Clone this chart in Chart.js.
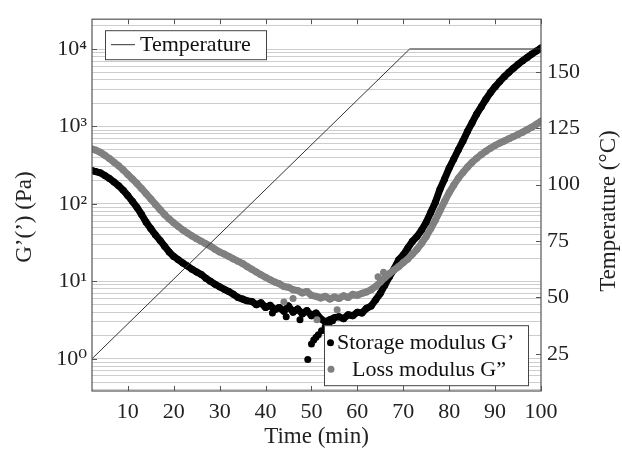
<!DOCTYPE html>
<html>
<head>
<meta charset="utf-8">
<script src="https://cdn.jsdelivr.net/npm/chart.js@4.4.0/dist/chart.umd.min.js"></script>
<style>
  html, body { margin: 0; padding: 0; background: #fff; }
</style>
</head>
<body>
<canvas id="rheo" width="622" height="452"></canvas>
<script>
// time axis (min) shared by both moduli
const times = [2.2, 3, 4, 5, 6, 7, 8, 9, 10,
    11, 12, 13, 14, 15, 16, 17, 18, 19, 20,
    21, 22, 23, 24, 25, 26, 27, 28, 29, 30,
    31, 32, 33, 34, 35, 36, 37, 38, 39, 40,
    41, 42, 43, 44, 45, 46, 47, 48, 49, 50,
    51, 52, 53, 54, 55, 56, 57, 58, 59, 60,
    61, 62, 63, 64, 65, 66, 67, 68, 69, 70,
    71, 72, 73, 74, 75, 76, 77, 78, 79, 80,
    81, 82, 83, 84, 85, 86, 87, 88, 89, 90,
    91, 92, 93, 94, 95, 96, 97, 98, 99, 100];

// G' (Pa)
const storageModulus = [270, 262, 252, 232, 213, 192, 172, 150, 128,
    108, 90, 73, 58, 48, 40, 34, 28.5, 24, 21,
    19, 17.2, 15.8, 14.3, 13.2, 12.3, 11, 10, 9.2, 8.5,
    7.9, 7.4, 6.8, 6.2, 5.9, 5.6, 5.5, 5.0, 5.3, 4.6,
    4.9, 4.3, 4.6, 4.1, 4.8, 4.0, 4.4, 3.8, 4.2, 3.6,
    3.9, 3.3, 3.0, 3.2, 3.4, 3.5, 3.3, 3.7, 3.6, 4.0,
    3.9, 4.5, 4.8, 5.8, 7.0, 9.0, 11.5, 14.5, 19, 22,
    27, 33, 38, 46, 58, 78, 105, 155, 210, 290,
    380, 500, 650, 870, 1120, 1450, 1800, 2250, 2750, 3250,
    3800, 4400, 5000, 5650, 6350, 7050, 7800, 8600, 9400, 10300];

// G'' (Pa)
const lossModulus = [510, 495, 465, 425, 385, 345, 310, 275, 240,
    210, 183, 158, 135, 116, 99, 85, 73, 64, 57,
    51, 46, 42, 38.5, 35.5, 33, 30.5, 28.5, 26, 24,
    22.5, 21, 19.5, 18.2, 17, 15.5, 14.3, 13.2, 12.2, 11.3,
    10.5, 9.8, 9.3, 8.6, 8.4, 7.8, 7.6, 7.1, 7.4, 6.6,
    6.4, 6.1, 6.4, 5.9, 6.3, 6.0, 6.5, 6.2, 6.8, 6.6,
    7.0, 7.3, 7.8, 8.6, 9.8, 11.2, 12.6, 14.0, 15.5, 17.5,
    19.5, 22.5, 26, 31, 38, 48, 62, 82, 108, 140,
    175, 215, 255, 300, 345, 390, 435, 480, 525, 570,
    610, 650, 695, 740, 790, 845, 910, 980, 1070, 1170];

// scattered readings around the minimum
const storageOutlierTimes = [41.5, 44.5, 47.5, 49.2, 50.0, 50.5, 51.0, 51.5, 52.2, 53.0, 53.8, 54.6];
const storageOutliers = [3.9, 3.5, 3.2, 0.98, 1.55, 1.75, 1.9, 2.05, 2.3, 2.6, 2.85, 3.1];
const lossOutlierTimes = [44, 46, 51.2, 55.6, 64.5, 65.7];
const lossOutliers = [5.4, 6.0, 3.2, 4.3, 11.5, 13.1];

// temperature program (°C)
const tempTimes = [2.2, 71.4, 100];
const temperature = [22.8, 160.2, 160.2];

const timeTicks = [10, 20, 30, 40, 50, 60, 70, 80, 90, 100];
const tempTicks = [25, 50, 75, 100, 125, 150];
const decadeTicks = [1, 10, 100, 1000, 10000];
const decadeLabels = ['10⁰', '10¹', '10²', '10³', '10⁴'];

const serif = "'Liberation Serif', 'DejaVu Serif', serif";
const fontSize = 22;
const titleSize = 23;
const toPoints = (xs, ys) => xs.map((x, i) => ({ x: x, y: ys[i] }));

// frame, inward tick marks, vertical titles and the two legend boxes
const framePlugin = {
    id: 'frame',
    afterDraw(chart) {
        const { ctx, chartArea: a, scales } = chart;
        ctx.save();
        ctx.strokeStyle = '#555';
        ctx.lineWidth = 1.2;
        ctx.strokeRect(a.left, a.top, a.right - a.left, a.bottom - a.top);

        ctx.lineWidth = 1;
        ctx.beginPath();
        timeTicks.forEach(v => {
            const px = Math.round(scales.x.getPixelForValue(v)) + 0.5;
            ctx.moveTo(px, a.bottom); ctx.lineTo(px, a.bottom - 5);
            ctx.moveTo(px, a.top); ctx.lineTo(px, a.top + 5);
        });
        decadeTicks.forEach(v => {
            const py = Math.round(scales.y.getPixelForValue(v)) + 0.5;
            ctx.moveTo(a.left, py); ctx.lineTo(a.left + 5, py);
        });
        tempTicks.forEach(v => {
            const py = Math.round(scales.y1.getPixelForValue(v)) + 0.5;
            ctx.moveTo(a.right, py); ctx.lineTo(a.right - 5, py);
        });
        ctx.stroke();

        // vertical axis titles, both reading bottom to top
        ctx.fillStyle = '#222';
        ctx.textAlign = 'center';
        ctx.textBaseline = 'middle';
        ctx.font = titleSize + 'px ' + serif;
        ctx.save();
        ctx.translate(25, (a.top + a.bottom) / 2 + 12);
        ctx.rotate(-Math.PI / 2);
        ctx.fillText('G’(’) (Pa)', 0, 0);
        ctx.restore();
        ctx.save();
        ctx.translate(a.right + 68, (a.top + a.bottom) / 2 + 6);
        ctx.rotate(-Math.PI / 2);
        ctx.fillText('Temperature (°C)', 0, 0);
        ctx.restore();

        ctx.textAlign = 'left';
        ctx.font = fontSize + 'px ' + serif;
        ctx.fillStyle = '#fff';
        ctx.strokeStyle = '#444';

        // temperature legend
        let bx = a.left + 13, by = a.top + 11;
        ctx.fillRect(bx, by, 161, 29);
        ctx.strokeRect(bx + 0.5, by + 0.5, 161, 29);
        ctx.beginPath();
        ctx.strokeStyle = '#333';
        ctx.moveTo(bx + 6, by + 14.5); ctx.lineTo(bx + 30, by + 14.5);
        ctx.stroke();
        ctx.fillStyle = '#111';
        ctx.fillText('Temperature', bx + 35, by + 15);

        // moduli legend
        bx = a.left + 232; by = a.top + 306;
        ctx.fillStyle = '#fff';
        ctx.strokeStyle = '#444';
        ctx.fillRect(bx, by, 204, 60);
        ctx.strokeRect(bx + 0.5, by + 0.5, 204, 60);
        ctx.fillStyle = '#000';
        ctx.beginPath(); ctx.arc(bx + 6.5, by + 17.5, 3.5, 0, Math.PI * 2); ctx.fill();
        ctx.fillStyle = '#111';
        ctx.fillText('Storage modulus G’', bx + 13, by + 18);
        ctx.fillStyle = '#808080';
        ctx.beginPath(); ctx.arc(bx + 7, by + 44, 3.5, 0, Math.PI * 2); ctx.fill();
        ctx.fillStyle = '#111';
        ctx.fillText('Loss modulus G”', bx + 28, by + 45);
        ctx.restore();
    }
};

const ctx = document.getElementById('rheo');

new Chart(ctx, {
    type: 'scatter',
    data: {
        datasets: [{
            label: 'Temperature',
            data: toPoints(tempTimes, temperature),
            yAxisID: 'y1',
            showLine: true,
            borderColor: '#333',
            borderWidth: 1,
            pointRadius: 0,
            order: 0
        },
        {
            label: 'Loss modulus G”',
            data: toPoints(lossOutlierTimes, lossOutliers),
            yAxisID: 'y',
            backgroundColor: '#808080',
            pointRadius: 3.5,
            pointBorderWidth: 0,
            order: 1
        },
        {
            label: 'Loss modulus G”',
            data: toPoints(times, lossModulus),
            yAxisID: 'y',
            showLine: true,
            borderColor: '#808080',
            backgroundColor: '#808080',
            borderWidth: 7,
            borderJoinStyle: 'round',
            borderCapStyle: 'round',
            pointRadius: 3.5,
            pointBorderWidth: 0,
            order: 2
        },
        {
            label: 'Storage modulus G’',
            data: toPoints(storageOutlierTimes, storageOutliers),
            yAxisID: 'y',
            backgroundColor: '#000',
            pointRadius: 3.5,
            pointBorderWidth: 0,
            order: 3
        },
        {
            label: 'Storage modulus G’',
            data: toPoints(times, storageModulus),
            yAxisID: 'y',
            showLine: true,
            borderColor: '#000',
            backgroundColor: '#000',
            borderWidth: 7,
            borderJoinStyle: 'round',
            borderCapStyle: 'round',
            pointRadius: 3.5,
            pointBorderWidth: 0,
            order: 4
        }]
    },
    options: {
        responsive: false,
        animation: false,
        devicePixelRatio: 1,
        layout: { padding: { top: 13, left: 0, right: 0, bottom: 0 } },
        plugins: {
            legend: { display: false },
            tooltip: { enabled: false }
        },
        scales: {
            x: {
                type: 'linear',
                position: 'bottom',
                min: 2.2,
                max: 100,
                afterBuildTicks: axis => { axis.ticks = timeTicks.map(v => ({ value: v })); },
                afterFit: axis => { axis.height = 61; },
                grid: { display: false },
                border: { display: false },
                ticks: { color: '#222', padding: 0, maxRotation: 0, font: { family: serif, size: fontSize } },
                title: {
                    display: true,
                    text: 'Time (min)',
                    color: '#222',
                    padding: { top: 0, bottom: 1 },
                    font: { family: serif, size: titleSize }
                }
            },
            y: {
                type: 'logarithmic',
                position: 'left',
                min: 0.384,
                max: 24270,
                afterBuildTicks: axis => {
                    const list = [];
                    [0.1].concat(decadeTicks).forEach(d => {
                        for (let m = 1; m < 10; m++) {
                            const v = m * d;
                            if (v >= axis.min && v <= axis.max) list.push({ value: v });
                        }
                    });
                    axis.ticks = list;
                },
                afterFit: axis => { axis.width = 92; },
                grid: { color: '#cdcdcd', lineWidth: 1, drawTicks: false },
                border: { display: false },
                ticks: {
                    autoSkip: false,
                    color: '#222',
                    padding: 5,
                    font: { family: serif, size: fontSize },
                    callback: value => {
                        const i = decadeTicks.findIndex(d => Math.abs(d - value) < 1e-9 * d);
                        return i >= 0 ? decadeLabels[i] : '';
                    }
                },
                title: { display: false }
            },
            y1: {
                type: 'linear',
                position: 'right',
                min: 8.5,
                max: 173.4,
                afterBuildTicks: axis => { axis.ticks = tempTicks.map(v => ({ value: v })); },
                afterFit: axis => { axis.width = 81; },
                grid: { drawOnChartArea: false, drawTicks: false },
                border: { display: false },
                ticks: { color: '#222', padding: 6, font: { family: serif, size: fontSize } },
                title: { display: false }
            }
        }
    },
    plugins: [framePlugin]
});
</script>
</body>
</html>
